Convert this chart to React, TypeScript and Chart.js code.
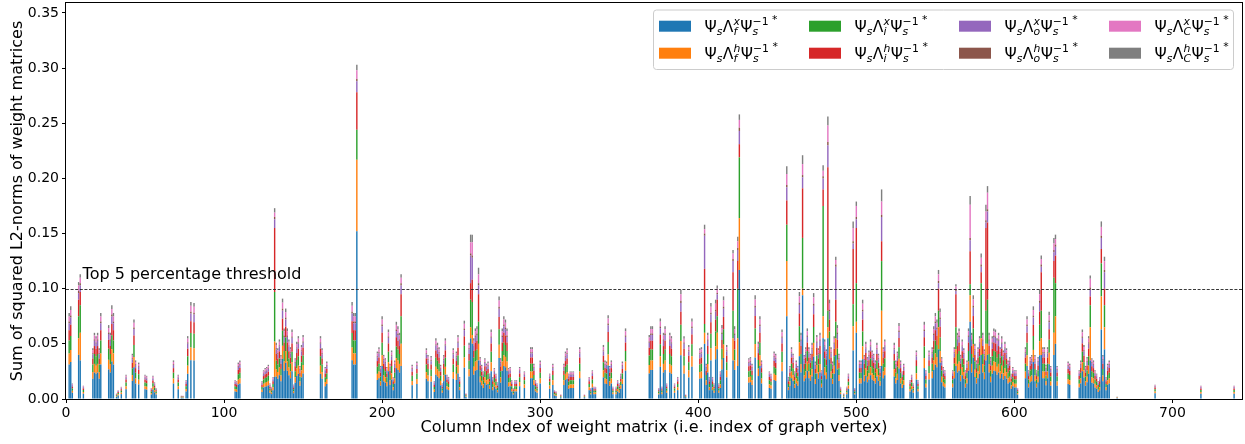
import React, { useEffect, useRef } from "react";
import { Chart, registerables } from "chart.js";

Chart.register(...registerables);

const X_MAX = 744;
const Y_MAX = 0.359;
const THRESHOLD = 0.1;
const THRESHOLD_LABEL = "Top 5 percentage threshold";
const THRESHOLD_LABEL_X = 10.5;
const X_TITLE = "Column Index of weight matrix (i.e. index of graph vertex)";
const Y_TITLE = "Sum of squared L2-norms of weight matrices";
const X_TICKS = [0, 100, 200, 300, 400, 500, 600, 700];
const Y_TICKS = [0, 0.05, 0.1, 0.15, 0.2, 0.25, 0.3, 0.35];

const SERIES_COLORS = ["#1f77b4", "#ff7f0e", "#2ca02c", "#d62728", "#9467bd", "#8c564b", "#e377c2", "#7f7f7f"];
const SERIES_GATE = ["f", "f", "i", "i", "o", "o", "C", "C"];
const SERIES_INPUT = ["x", "h", "x", "h", "x", "h", "x", "h"];
// typical share of each series in a column's stack
const SERIES_SHARE = [0.40, 0.13, 0.15, 0.12, 0.08, 0.02, 0.06, 0.04];

// [column index, column total in units of 0.001]
const COLUMN_TOTALS: [number, number][] = [
  [2,78],[3,84],[4,14],[8,106],[9,113],[11,12],
  [17,46],[18,60],[19,57],[20,60],[21,46],[22,78],
  [27,67],[28,60],[29,85],[30,78],[32,5],[33,8],[35,11],[38,22],
  [42,41],[43,72],[44,35],[46,33],[50,22],[51,21],[54,10],[55,21],[56,15],[57,10],
  [68,35],[71,22],[73,3],[74,3],[76,17],[77,57],[79,88],[81,87],
  [107,17],[108,16],[109,33],[110,35],
  [124,16],[125,26],[126,28],[127,29],[128,31],[129,14],[130,11],[131,20],[132,173],[133,51],[134,46],[135,54],[136,40],[137,91],[138,64],[139,82],[140,64],[141,54],[142,47],[143,63],[144,13],[145,37],[146,52],[147,57],[148,30],[149,49],[150,58],
  [161,57],[162,46],[164,29],[165,34],[181,88],[182,78],[183,78],[184,303],
  [197,43],[198,47],[199,30],[200,75],[201,40],[202,37],[203,29],[204,63],[205,32],[206,44],[207,20],[208,35],[209,70],[210,66],[211,60],[212,113],
  [219,31],[222,34],[228,46],[229,40],[231,39],[233,16],[234,55],[235,51],[236,47],[237,31],[238,14],[239,40],[240,55],[241,22],[242,20],[245,46],[247,43],
  [248,58],[249,20],[252,71],[253,5],[255,51],[256,149],[257,149],[258,55],[259,64],[260,66],[261,119],[262,38],[263,31],[264,25],[265,37],[266,32],[267,34],[268,23],[269,63],[270,20],[271,28],[272,23],[273,15],[274,93],[275,37],[276,64],[277,75],[278,72],[279,64],[280,28],[281,29],[282,17],[283,10],[284,17],[285,17],[287,29],[290,25],[294,47],[295,47],[296,32],[297,17],[298,14],[300,35],[306,23],[308,32],[309,8],
  [310,7],[313,4],[315,32],[316,43],[317,46],[318,23],[319,25],[320,25],[321,25],[325,47],[328,4],[331,20],[332,10],[333,26],[334,11],[335,11],[340,49],[341,35],[342,34],[343,76],[344,30],[345,35],[346,11],[348,11],[349,17],[350,14],[351,23],[352,34],[354,64],[369,58],[370,66],
  [371,66],[375,10],[376,73],[377,11],[378,60],[379,66],[380,14],[382,60],[383,57],[385,14],[387,20],[389,99],[391,57],[392,4],[394,49],[396,73],[401,46],[402,47],[404,158],[405,32],[406,60],[407,20],[408,87],[409,20],[410,14],[411,90],[412,103],[413,14],[414,25],[415,67],[416,93],[418,49],[422,135],[423,66],[425,147],[426,258],[432,37],[433,38],
  [434,32],[436,94],[438,52],[439,75],[440,35],[445,25],[446,23],[448,43],[449,41],[453,63],[456,211],[457,20],[458,30],[459,47],[460,41],[461,25],[462,35],[463,30],[464,97],[465,60],[466,221],[467,40],[468,47],[469,64],[470,47],[471,41],[472,51],[473,96],[474,34],[475,58],[476,46],[477,60],[478,26],[479,212],[480,54],[481,45],[482,256],[483,90],[484,47],[485,34],[486,57],[487,129],[488,67],[489,41],[490,11],[492,5],[494,11],
  [495,23],[498,161],[499,10],[500,179],[502,35],[503,35],[504,90],[505,40],[506,52],[507,38],[508,44],[509,54],[510,44],[511,41],[512,35],[513,51],[514,41],[515,30],[516,190],[517,47],[518,54],[524,51],[525,35],[526,43],[527,69],[528,35],[529,25],[530,32],[534,17],[535,22],[536,14],[538,44],[539,17],[543,70],[544,26],[546,44],[548,47],[549,66],[550,78],[551,72],[552,117],[553,82],[554,38],[555,29],[556,26],
  [561,26],[562,47],[563,104],[564,60],[565,64],[566,40],[567,54],[568,46],[569,26],[570,35],[571,64],[572,184],[573,60],[574,94],[575,50],[576,35],[577,47],[578,57],[579,132],[580,60],[581,45],[582,176],[583,193],[584,60],[585,38],[586,57],[587,64],[588,63],[589,55],[590,60],[591,47],[592,57],[593,44],[594,52],[595,46],[596,35],[597,38],[598,23],[599,29],[600,26],[601,26],[602,10],[607,47],[608,75],[609,26],[610,38],[611,40],[612,84],[613,40],[614,26],[615,38],[616,99],[617,130],[618,47],
  [619,47],[620,31],[621,47],[622,79],[623,30],[625,146],[626,149],[627,30],[634,34],[635,32],[641,26],[642,35],[643,63],[644,49],[645,30],[646,38],[647,57],[648,112],[649,37],[650,35],[651,26],[652,23],[653,16],[654,20],[655,161],[656,40],[657,129],[658,20],[659,32],[660,35],[665,2],
  [689,13],[718,12],[739,12],
];

// tall columns read segment by segment, in units of 0.001, bottom (blue) to top (grey)
const SPIKE_PARTS: [number, number[]][] = [
  [8, [40, 15, 20, 15, 6, 2, 5, 3]],
  [9, [35, 25, 25, 12, 6, 2, 5, 3]],
  [132, [20, 32, 45, 58, 8, 2, 4, 4]],
  [184, [152, 65, 27, 34, 10, 2, 8, 5]],
  [212, [30, 20, 25, 20, 8, 2, 5, 3]],
  [256, [55, 10, 25, 15, 25, 2, 10, 7]],
  [257, [50, 8, 30, 20, 20, 2, 12, 7]],
  [261, [35, 15, 20, 25, 8, 2, 8, 6]],
  [404, [50, 10, 8, 50, 30, 2, 4, 4]],
  [412, [45, 15, 15, 15, 5, 1, 4, 3]],
  [422, [35, 20, 25, 35, 10, 2, 5, 3]],
  [425, [30, 25, 45, 25, 10, 2, 6, 4]],
  [426, [117, 47, 55, 12, 12, 3, 7, 5]],
  [456, [75, 50, 33, 22, 12, 2, 10, 7]],
  [466, [94, 6, 46, 45, 10, 2, 10, 8]],
  [479, [55, 20, 100, 15, 10, 2, 5, 5]],
  [482, [55, 10, 15, 130, 20, 3, 15, 8]],
  [487, [40, 15, 15, 20, 30, 2, 4, 3]],
  [498, [44, 22, 20, 50, 5, 2, 12, 6]],
  [500, [60, 10, 35, 50, 8, 2, 10, 4]],
  [516, [30, 50, 45, 18, 22, 2, 12, 11]],
  [552, [45, 20, 15, 20, 5, 2, 6, 4]],
  [563, [30, 15, 20, 30, 3, 1, 3, 2]],
  [572, [70, 24, 10, 30, 10, 2, 30, 8]],
  [579, [40, 15, 50, 10, 5, 2, 6, 4]],
  [582, [35, 15, 30, 75, 5, 2, 8, 6]],
  [583, [40, 10, 40, 70, 10, 2, 15, 6]],
  [617, [40, 15, 25, 35, 5, 2, 5, 3]],
  [625, [40, 20, 50, 15, 8, 2, 6, 5]],
  [626, [50, 25, 30, 25, 8, 2, 5, 4]],
  [648, [35, 30, 20, 8, 6, 2, 8, 3]],
  [655, [63, 30, 30, 13, 10, 2, 8, 5]],
  [657, [45, 20, 20, 15, 15, 2, 8, 4]],
];

const FONT = "'DejaVu Sans'";

function drawLegendLabel(ctx: CanvasRenderingContext2D, x: number, base: number, gate: string, inp: string, size: number) {
  const small = size * 0.7;
  const mainF = `${size}px ${FONT}`;
  const itF = `italic ${small}px ${FONT}`;
  const upF = `${small}px ${FONT}`;
  const subDy = size * 0.24;
  const supDy = -size * 0.45;
  let cx = x;
  ctx.font = mainF;
  ctx.fillText("Ψ", cx, base);
  cx += ctx.measureText("Ψ").width;
  ctx.font = itF;
  ctx.fillText("s", cx, base + subDy);
  cx += ctx.measureText("s").width + 0.5;
  ctx.font = mainF;
  ctx.fillText("Λ", cx, base);
  cx += ctx.measureText("Λ").width;
  ctx.font = itF;
  ctx.fillText(gate, cx, base + subDy);
  const w1 = ctx.measureText(gate).width;
  ctx.fillText(inp, cx, base + supDy);
  const w2 = ctx.measureText(inp).width;
  cx += Math.max(w1, w2) + 0.5;
  ctx.font = mainF;
  ctx.fillText("Ψ", cx, base);
  cx += ctx.measureText("Ψ").width;
  ctx.font = itF;
  ctx.fillText("s", cx, base + subDy);
  ctx.font = upF;
  ctx.fillText("−1", cx, base + supDy);
  const wm = ctx.measureText("−1 ").width;
  ctx.fillText("*", cx + wm, base + supDy - 1.5);
}

const overlayPlugin = {
  id: "overlay",
  afterDatasetsDraw(chart: any) {
    const { ctx, chartArea: a, scales } = chart;
    const xs = scales.x;
    const ys = scales.y;
    ctx.save();
    // threshold line
    const ty = Math.round(ys.getPixelForValue(THRESHOLD)) + 0.5;
    ctx.strokeStyle = "#222";
    ctx.lineWidth = 0.9;
    ctx.setLineDash([3, 1.6]);
    ctx.beginPath();
    ctx.moveTo(a.left, ty);
    ctx.lineTo(a.right, ty);
    ctx.stroke();
    ctx.setLineDash([]);
    ctx.fillStyle = "#000";
    ctx.font = `16px ${FONT}`;
    ctx.textAlign = "left";
    ctx.textBaseline = "alphabetic";
    ctx.fillText(THRESHOLD_LABEL, xs.getPixelForValue(THRESHOLD_LABEL_X), ty - 10.5);

    // frame
    ctx.strokeStyle = "#000";
    ctx.lineWidth = 1;
    ctx.strokeRect(a.left - 0.5, a.top - 0.5, a.right - a.left + 1, a.bottom - a.top + 1);

    // legend
    const boxL = a.right - 588.5;
    const boxT = a.top + 7;
    const boxW = 580;
    const boxH = 59.5;
    ctx.beginPath();
    const r = 3;
    ctx.moveTo(boxL + r, boxT);
    ctx.arcTo(boxL + boxW, boxT, boxL + boxW, boxT + boxH, r);
    ctx.arcTo(boxL + boxW, boxT + boxH, boxL, boxT + boxH, r);
    ctx.arcTo(boxL, boxT + boxH, boxL, boxT, r);
    ctx.arcTo(boxL, boxT, boxL + boxW, boxT, r);
    ctx.closePath();
    ctx.fillStyle = "rgba(255,255,255,0.8)";
    ctx.fill();
    ctx.strokeStyle = "#cccccc";
    ctx.lineWidth = 1;
    ctx.stroke();
    ctx.textBaseline = "alphabetic";
    for (let s = 0; s < SERIES_COLORS.length; s++) {
      const col = Math.floor(s / 2);
      const row = s % 2;
      const sx = boxL + 5.5 + col * 150;
      const sy = boxT + 10.7 + row * 27;
      ctx.fillStyle = SERIES_COLORS[s];
      ctx.fillRect(sx, sy, 32, 11);
      ctx.fillStyle = "#000";
      drawLegendLabel(ctx, sx + 45.5, boxT + 21.5 + row * 27, SERIES_GATE[s], SERIES_INPUT[s], 15.5);
    }
    ctx.restore();
  },
};

export default function App() {
  const ref = useRef<HTMLCanvasElement | null>(null);
  useEffect(() => {
    document.body.style.margin = "0";
    const spike = new Map<number, number[]>(SPIKE_PARTS);
    const datasets = SERIES_COLORS.map((color, s) => ({
      label: `Ψ_sΛ_${SERIES_GATE[s]}^${SERIES_INPUT[s]}Ψ_s^{-1*}`,
      data: COLUMN_TOTALS.map(([c, t]) => {
        const parts = spike.get(c);
        const v = parts ? parts[s] : t * SERIES_SHARE[s];
        return { x: c, y: v / 1000 };
      }),
      backgroundColor: color,
      borderWidth: 0,
      categoryPercentage: 1,
      barPercentage: 0.9,
    }));
    const chart = new Chart(ref.current as HTMLCanvasElement, {
      type: "bar",
      data: { datasets } as any,
      plugins: [overlayPlugin as any],
      options: {
        animation: false,
        responsive: false,
        layout: { padding: { top: 3, right: 3, left: 0, bottom: 0 } },
        plugins: { legend: { display: false }, tooltip: { enabled: false } },
        scales: {
          x: {
            type: "linear",
            min: 0,
            max: X_MAX,
            stacked: true,
            offset: false,
            afterBuildTicks: (sc: any) => {
              sc.ticks = X_TICKS.map((v) => ({ value: v }));
            },
            afterFit: (sc: any) => {
              sc.height = 45;
              sc.paddingLeft = 0;
              sc.paddingRight = 0;
            },
            ticks: {
              autoSkip: false,
              maxRotation: 0,
              color: "#000",
              font: { family: FONT, size: 14 },
              padding: 2,
              callback: (v: any) => String(v),
            },
            grid: { display: true, drawOnChartArea: false, drawTicks: true, tickLength: 4, color: "#000", offset: false },
            border: { display: false },
            title: {
              display: true,
              text: X_TITLE,
              color: "#000",
              font: { family: FONT, size: 16 },
              padding: { top: 0, bottom: 7 },
            },
          },
          y: {
            type: "linear",
            min: 0,
            max: Y_MAX,
            stacked: true,
            afterBuildTicks: (sc: any) => {
              sc.ticks = Y_TICKS.map((v) => ({ value: v }));
            },
            afterFit: (sc: any) => {
              sc.width = 66;
              sc.paddingTop = 0;
              sc.paddingBottom = 0;
            },
            ticks: {
              color: "#000",
              font: { family: FONT, size: 14 },
              padding: 3,
              callback: (v: any) => Number(v).toFixed(2),
            },
            grid: { display: true, drawOnChartArea: false, drawTicks: true, tickLength: 4, color: "#000" },
            border: { display: false },
            title: {
              display: true,
              text: Y_TITLE,
              color: "#000",
              font: { family: FONT, size: 16 },
              padding: { top: 8.5, bottom: 0 },
            },
          },
        },
      } as any,
    });
    return () => chart.destroy();
  }, []);
  return (
    <div style={{ width: 1245, height: 444 }}>
      <canvas ref={ref} width={1245} height={444} style={{ display: "block" }} />
    </div>
  );
}
